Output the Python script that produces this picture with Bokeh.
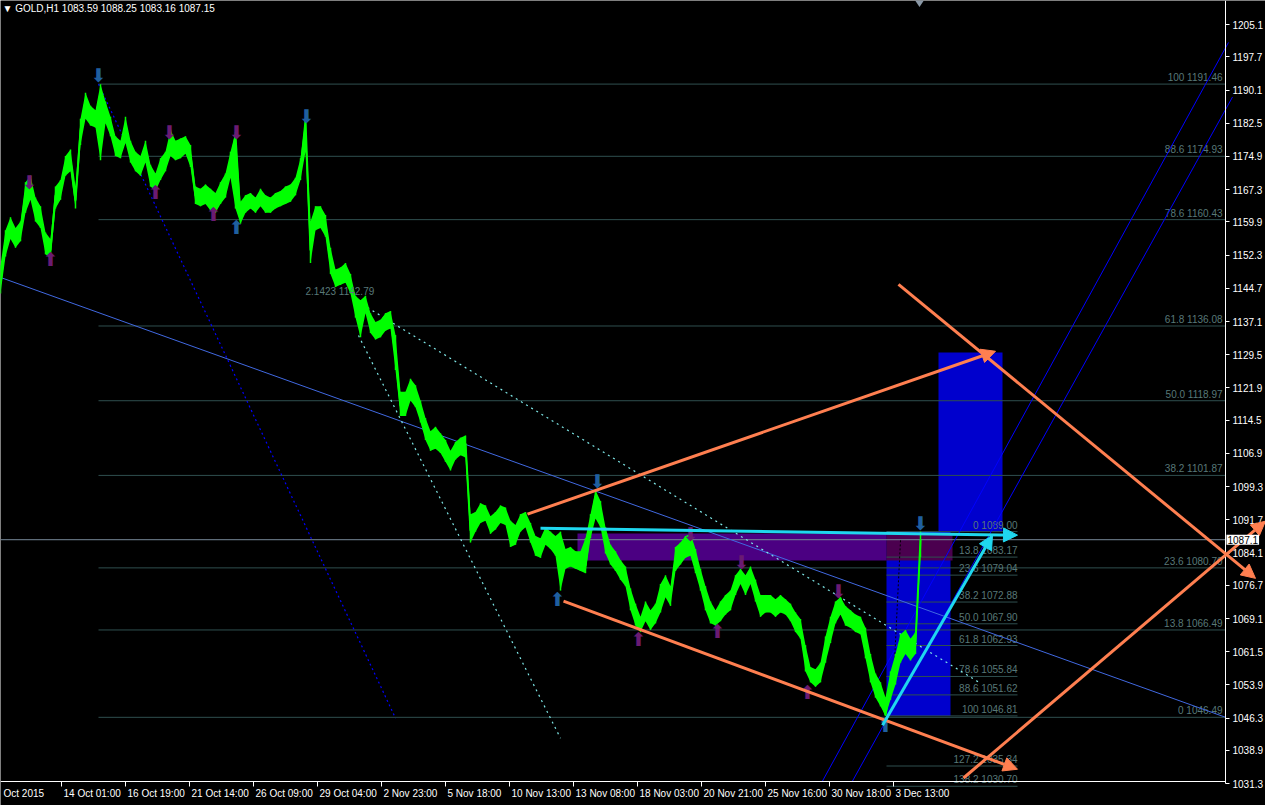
from bokeh.plotting import figure
from bokeh.models import Range1d, FixedTicker, PrintfTickFormatter, Label, Arrow, NormalHead
from bokeh.core.properties import value
from bokeh.embed import file_html
from bokeh.resources import INLINE

# ---------------- data ----------------
symbol = "GOLD,H1"
last_ohlc = [1083.59, 1088.25, 1083.16, 1087.15]

# hourly prices, one sample every 5 bars: close, high and low of each sample
bar_step = 5
closes = [
    1145.8, 1155.6, 1158.6, 1156.1, 1157.9, 1166.4, 1168.2, 1162.5, 1161.4, 1154.5,
    1153.4, 1165.9, 1167.5, 1172.8, 1174.0, 1164.8, 1180.8, 1187.7, 1184.3, 1183.6,
    1189.5, 1185.4, 1182.0, 1177.4, 1176.7, 1182.0, 1176.3, 1174.0, 1172.8, 1176.3,
    1170.5, 1169.0, 1172.1, 1174.0, 1178.5, 1176.3, 1176.9, 1177.4, 1175.1, 1165.9,
    1165.5, 1166.4, 1165.3, 1163.7, 1166.6, 1168.2, 1173.3, 1179.7, 1160.7, 1164.1,
    1164.8, 1163.7, 1165.5, 1164.1, 1163.7, 1164.8, 1165.3, 1165.9, 1166.6, 1168.2,
    1172.1, 1183.0, 1153.4, 1160.7, 1161.4, 1159.1, 1150.6, 1146.9, 1147.6, 1148.3,
    1146.0, 1140.8, 1139.6, 1141.4, 1136.9, 1135.0, 1135.5, 1136.9, 1137.8, 1129.3,
    1117.8, 1117.8, 1121.7, 1120.1, 1116.3, 1112.1, 1109.4, 1110.3, 1109.4, 1107.5,
    1104.8, 1107.5, 1108.7, 1109.2, 1089.2, 1091.5, 1093.4, 1093.4, 1090.4, 1091.5,
    1093.1, 1092.7, 1089.2, 1088.1, 1091.1, 1092.0, 1088.8, 1085.8, 1085.1, 1088.1,
    1086.9, 1085.8, 1078.9, 1082.8, 1083.3, 1082.4, 1082.4, 1081.2, 1090.4, 1097.2,
    1093.8, 1086.9, 1083.5, 1082.4, 1080.1, 1078.9, 1073.2, 1069.8, 1066.8, 1070.5,
    1068.6, 1070.5, 1074.4, 1076.6, 1074.4, 1082.4, 1084.0, 1085.8, 1086.9, 1082.4,
    1077.8, 1073.7, 1070.5, 1068.6, 1070.5, 1072.1, 1073.2, 1076.6, 1079.4, 1076.6,
    1079.6, 1075.5, 1072.1, 1072.7, 1072.5, 1071.4, 1072.7, 1071.8, 1070.5, 1068.1,
    1066.8, 1059.5, 1055.3, 1054.9, 1056.7, 1061.8, 1066.3, 1070.9, 1073.7, 1069.8,
    1069.1, 1068.1, 1067.5, 1064.0, 1057.2, 1053.7, 1051.4, 1047.0, 1053.7, 1057.2,
    1062.9, 1064.0, 1061.8, 1063.7, 1087.15,
]
highs = [
    1150.0, 1158.0, 1161.0, 1158.5, 1160.0, 1169.0, 1170.5, 1165.5, 1163.5, 1157.5,
    1156.0, 1168.0, 1169.5, 1175.0, 1176.5, 1168.0, 1183.5, 1189.5, 1186.5, 1185.5,
    1191.4, 1187.5, 1184.0, 1179.5, 1178.5, 1184.0, 1178.5, 1176.0, 1175.0, 1178.5,
    1173.0, 1171.0, 1174.5, 1176.0, 1181.0, 1178.5, 1179.0, 1179.5, 1177.5, 1168.0,
    1167.5, 1168.5, 1167.5, 1166.5, 1169.0, 1171.0, 1176.0, 1180.5, 1164.5, 1166.0,
    1166.5, 1165.5, 1167.5, 1166.0, 1165.5, 1166.5, 1167.0, 1168.0, 1168.5, 1170.0,
    1174.5, 1183.5, 1160.0, 1163.5, 1163.5, 1161.5, 1154.0, 1149.0, 1149.5, 1150.5,
    1148.0, 1143.0, 1142.0, 1143.0, 1139.0, 1137.0, 1137.5, 1139.0, 1139.5, 1134.0,
    1121.0, 1121.0, 1124.0, 1122.5, 1119.0, 1115.0, 1112.0, 1113.0, 1111.5, 1110.0,
    1107.5, 1109.5, 1110.5, 1111.0, 1093.0, 1093.5, 1095.5, 1095.0, 1092.5, 1093.5,
    1095.0, 1094.5, 1091.5, 1090.5, 1093.0, 1093.5, 1091.0, 1088.0, 1087.5, 1090.0,
    1089.0, 1088.0, 1089.0, 1085.0, 1085.5, 1084.5, 1084.5, 1087.5, 1093.0, 1098.5,
    1096.0, 1090.0, 1086.0, 1084.5, 1082.5, 1081.0, 1076.0, 1072.5, 1069.5, 1073.0,
    1071.0, 1072.5, 1077.0, 1079.0, 1076.5, 1085.5, 1086.5, 1088.0, 1088.5, 1085.0,
    1080.5, 1076.5, 1073.0, 1071.0, 1073.0, 1074.5, 1075.5, 1079.0, 1080.5, 1079.0,
    1081.0, 1078.0, 1074.5, 1074.5, 1074.5, 1073.5, 1074.5, 1073.5, 1072.5, 1070.5,
    1069.0, 1063.0, 1058.0, 1057.5, 1059.0, 1065.0, 1069.5, 1073.0, 1074.0, 1072.0,
    1071.0, 1070.0, 1069.5, 1067.0, 1061.0, 1056.5, 1054.5, 1051.0, 1057.0, 1061.0,
    1065.5, 1066.5, 1064.5, 1066.0, 1089.0,
]
lows = [
    1143.5, 1152.0, 1156.0, 1154.0, 1155.5, 1162.0, 1165.0, 1160.0, 1158.5, 1152.5,
    1151.5, 1163.0, 1165.0, 1170.5, 1171.5, 1163.0, 1177.5, 1183.5, 1182.0, 1181.5,
    1174.0, 1182.5, 1179.5, 1175.0, 1174.5, 1178.0, 1173.5, 1171.5, 1170.5, 1173.5,
    1168.0, 1167.0, 1169.5, 1171.5, 1175.0, 1174.0, 1174.5, 1175.5, 1172.5, 1164.0,
    1163.5, 1164.0, 1162.5, 1162.0, 1164.0, 1165.5, 1170.0, 1163.0, 1159.5, 1162.0,
    1163.0, 1162.0, 1163.5, 1162.0, 1162.0, 1163.0, 1163.5, 1164.0, 1164.5, 1166.0,
    1169.5, 1176.0, 1150.5, 1158.0, 1158.5, 1156.5, 1148.0, 1145.0, 1145.5, 1146.0,
    1143.5, 1138.0, 1133.5, 1139.0, 1134.5, 1133.0, 1133.5, 1135.0, 1135.5, 1126.0,
    1115.5, 1115.5, 1119.0, 1117.5, 1114.0, 1110.0, 1107.5, 1108.0, 1107.0, 1105.0,
    1103.0, 1105.5, 1106.5, 1106.0, 1086.5, 1089.0, 1091.0, 1091.5, 1088.5, 1089.5,
    1091.0, 1090.5, 1085.5, 1086.0, 1089.0, 1090.0, 1086.5, 1083.5, 1083.0, 1086.0,
    1085.0, 1083.5, 1075.5, 1080.5, 1081.0, 1080.5, 1080.0, 1079.5, 1087.5, 1092.0,
    1090.0, 1084.0, 1081.5, 1080.0, 1078.0, 1076.5, 1071.0, 1067.5, 1066.0, 1068.5,
    1066.5, 1068.0, 1070.5, 1074.0, 1072.0, 1080.0, 1081.5, 1083.0, 1083.5, 1079.5,
    1075.5, 1071.0, 1068.0, 1067.5, 1068.5, 1070.0, 1071.0, 1074.5, 1077.0, 1074.5,
    1077.0, 1073.0, 1069.5, 1070.5, 1070.5, 1069.5, 1070.5, 1070.0, 1068.5, 1066.0,
    1064.5, 1057.0, 1054.5, 1053.5, 1054.5, 1059.0, 1063.5, 1068.0, 1070.0, 1067.5,
    1067.0, 1066.0, 1065.5, 1060.0, 1054.5, 1051.0, 1049.0, 1046.8, 1050.5, 1054.0,
    1059.0, 1061.0, 1059.5, 1061.0, 1083.2,
]
bars = [i * bar_step for i in range(len(closes))]

# price scale
price_top = 1210.6
price_bottom = 1026.3
scale_low = 1031.3
y_ticks = [1205.1, 1197.7, 1190.1, 1182.5, 1174.9, 1167.3, 1159.9, 1152.3, 1144.7,
           1137.1, 1129.5, 1121.9, 1114.5, 1106.9, 1099.3, 1091.7, 1084.1, 1076.7,
           1069.1, 1061.5, 1053.9, 1046.3, 1038.9, 1031.3]

# time scale (bar index of each label)
last_visible_bar = 1225
window_bars = 1265
shift_bar = 919
time_tick_bars = [61, 125, 189, 253, 317, 381, 445, 509, 573, 637, 701, 765, 829, 893]
time_tick_labels = ["14 Oct 01:00", "16 Oct 19:00", "21 Oct 14:00", "26 Oct 09:00",
                    "29 Oct 04:00", "2 Nov 23:00", "5 Nov 18:00", "10 Nov 13:00",
                    "13 Nov 08:00", "18 Nov 03:00", "20 Nov 21:00", "25 Nov 16:00",
                    "30 Nov 18:00", "3 Dec 13:00"]
first_label_bar = 3
first_label = "Oct 2015"

# Fibonacci retracement over the whole decline
fib_main_start = 98
fib_main_levels = ["100", "88.6", "78.6", "61.8", "50.0", "38.2", "23.6", "13.8", "0"]
fib_main_prices = [1191.46, 1174.93, 1160.43, 1136.08, 1118.97, 1101.87, 1080.70, 1066.49, 1046.49]

# Fibonacci retracement of the last swing
fib_last_start = 886
fib_last_end = 1017
fib_last_levels = ["0", "13.8", "23.6", "38.2", "50.0", "61.8", "78.6", "88.6", "100", "127.2", "138.2"]
fib_last_prices = [1089.00, 1083.17, 1079.04, 1072.88, 1067.90, 1062.93, 1055.84, 1051.62,
                   1046.81, 1035.34, 1030.70]

# rectangles (left bar, right bar, top price, bottom price)
target_box = [938, 1002, 1130.0, 1089.0]
swing_box = [886, 950, 1089.0, 1046.8]
zone_box = [577, 952, 1088.6, 1082.4]

# trend lines (bar, price) pairs
trend_main = ([0, 1225], [1147.2, 1046.5])
swing_ray = ([98, 395], [1191.46, 1046.3])
fan_steep = ([358, 560], [1133.9, 1041.7])
fan_flat = ([367, 980], [1140.3, 1054.3])
channel_a = ([822, 1228], [1031.9, 1201.0])
channel_b = ([852, 1232], [1031.9, 1188.5])
swing_drop = ([900, 893], [1087.0, 1054.5])

# arrows (bar0, price0, bar1, price1)
orange_arrows = [
    (527, 1093.0, 995, 1130.3),
    (563, 1073.1, 1017, 1034.6),
    (898, 1145.6, 1255, 1078.3),
    (963, 1032.6, 1265, 1091.4),
]
cyan_arrows = [
    (540, 1089.8, 1017, 1088.2),
    (882, 1044.7, 992, 1088.2),
]

# fractal marks (bar, price of the extreme)
frac_high_bars = [29, 98, 169, 236, 306, 597, 690, 741, 838, 920]
frac_high_prices = [1167.1, 1191.46, 1178.5, 1178.5, 1182.0, 1098.5, 1086.5, 1080.1, 1073.3, 1089.0]
frac_high_major = [False, True, False, False, True, True, False, False, False, True]
frac_low_bars = [50, 155, 213, 236, 557, 638, 717, 807, 885]
frac_low_prices = [1153.4, 1168.9, 1163.7, 1160.7, 1075.6, 1066.4, 1068.2, 1054.3, 1046.81]
frac_low_major = [False, False, False, True, True, False, False, False, True]

label_note_bar = 305
label_note_price = 1142.79
label_note = "2.1423 1142.79"

# ---------------- styling ----------------
FONT = "Liberation Sans"
FIB_LINE = "#2f4f4f"
FIB_TEXT = "#587878"
PURPLE_MARK = "#6a1b72"
BLUE_MARK = "#1f5f9f"
ORANGE = "#ff7f50"
CYAN = "#1fd7ef"
DOTS = "#7fe8e8"
GREEN = "#00ff00"

p = figure(frame_width=1265, frame_height=805,
           x_range=Range1d(0, window_bars), y_range=Range1d(price_bottom, price_top),
           output_backend="svg", toolbar_location=None, y_axis_location="right",
           background_fill_color="black", border_fill_color="black",
           min_border=0, outline_line_color=None)
p.grid.visible = False

# price scale drawn at the right edge of the chart area
ya = p.yaxis[0]
ya.fixed_location = last_visible_bar
ya.bounds = (scale_low, price_top)
ya.ticker = FixedTicker(ticks=y_ticks)
ya.formatter = PrintfTickFormatter(format="%.1f")
ya.axis_line_color = "white"
ya.major_tick_line_color = "white"
ya.major_tick_out = 4
ya.major_tick_in = 0
ya.minor_tick_line_color = None
ya.major_label_text_color = "white"
ya.major_label_text_font = FONT
ya.major_label_text_font_size = "10px"
ya.major_label_standoff = 3

# time scale drawn at the bottom of the chart area
xa = p.xaxis[0]
xa.fixed_location = 1031.8
xa.bounds = (0, last_visible_bar)
xa.ticker = FixedTicker(ticks=time_tick_bars)
xa.major_label_overrides = {b: "" for b in time_tick_bars}
xa.axis_line_color = "white"
xa.major_tick_line_color = "white"
xa.major_tick_out = 5
xa.major_tick_in = 0
xa.minor_tick_line_color = None
xa.major_label_text_font_size = "10px"

# rectangles
p.quad(left=[target_box[0]], right=[target_box[1]], top=[target_box[2]], bottom=[target_box[3]],
       fill_color="#0000cd", line_color=None)
p.quad(left=[swing_box[0]], right=[swing_box[1]], top=[swing_box[2]], bottom=[swing_box[3]],
       fill_color="#0000cd", line_color=None)
p.quad(left=[zone_box[0]], right=[swing_box[0]], top=[zone_box[2]], bottom=[zone_box[3]],
       fill_color="#4b0082", line_color=None)
p.quad(left=[swing_box[0]], right=[zone_box[1]], top=[zone_box[2]], bottom=[zone_box[3]],
       fill_color="#4b004f", line_color=None)

# fibonacci levels
n_main = len(fib_main_prices)
p.segment(x0=[fib_main_start] * n_main, x1=[last_visible_bar] * n_main,
          y0=fib_main_prices, y1=fib_main_prices, line_color=FIB_LINE, line_width=1)
p.text(x=[last_visible_bar - 3] * n_main, y=fib_main_prices,
       text=[f"{l} {v:.2f}" for l, v in zip(fib_main_levels, fib_main_prices)],
       text_align="right", text_baseline="bottom", y_offset=-1,
       text_font=value(FONT), text_font_size="10px", text_color=FIB_TEXT)
n_last = len(fib_last_prices)
p.segment(x0=[fib_last_start] * n_last, x1=[fib_last_end] * n_last,
          y0=fib_last_prices, y1=fib_last_prices, line_color=FIB_LINE, line_width=1)
p.text(x=[fib_last_end] * n_last, y=fib_last_prices,
       text=[f"{l} {v:.2f}" for l, v in zip(fib_last_levels, fib_last_prices)],
       text_align="right", text_baseline="bottom", y_offset=-1,
       text_font=value(FONT), text_font_size="10px", text_color=FIB_TEXT)

# current price line
p.line(x=[0, last_visible_bar], y=[last_ohlc[3]] * 2, line_color="#778899", line_width=1)

# trend lines
p.line(x=trend_main[0], y=trend_main[1], line_color="#4169e1", line_width=1)
p.line(x=swing_ray[0], y=swing_ray[1], line_color="#0000ff", line_width=1.2, line_dash="2 3")
p.line(x=fan_steep[0], y=fan_steep[1], line_color=DOTS, line_width=1.2, line_dash="2 4")
p.line(x=fan_flat[0], y=fan_flat[1], line_color=DOTS, line_width=1.2, line_dash="2 4")
p.line(x=channel_a[0], y=channel_a[1], line_color="#0000ff", line_width=1)
p.line(x=channel_b[0], y=channel_b[1], line_color="#0000ff", line_width=1)
p.line(x=swing_drop[0], y=swing_drop[1], line_color="black", line_width=1, line_dash="2 2")

# price: hourly range band, range spikes and the close path
p.varea(x=bars, y1=lows, y2=highs, fill_color=GREEN, fill_alpha=1.0)
p.segment(x0=bars, x1=bars, y0=lows, y1=highs, line_color=GREEN, line_width=1.5)
p.line(x=bars, y=closes, line_color=GREEN, line_width=2)

# fractal marks
p.text(x=frac_high_bars, y=frac_high_prices, text=["\u2b07"] * len(frac_high_bars),
       text_color=[BLUE_MARK if m else PURPLE_MARK for m in frac_high_major],
       text_align="center", text_baseline="bottom", y_offset=2,
       text_font=value("DejaVu Sans"), text_font_size="19px")
p.text(x=frac_low_bars, y=frac_low_prices, text=["\u2b06"] * len(frac_low_bars),
       text_color=[BLUE_MARK if m else PURPLE_MARK for m in frac_low_major],
       text_align="center", text_baseline="top", y_offset=-2,
       text_font=value("DejaVu Sans"), text_font_size="19px")

p.text(x=[label_note_bar], y=[label_note_price], text=[label_note], text_align="left",
       text_baseline="bottom", text_font=value(FONT), text_font_size="10px", text_color=FIB_TEXT)

# arrows
for x0, y0, x1, y1 in orange_arrows:
    p.add_layout(Arrow(end=NormalHead(size=14, fill_color=ORANGE, line_color=ORANGE),
                       x_start=x0, y_start=y0, x_end=x1, y_end=y1,
                       line_color=ORANGE, line_width=3))
for x0, y0, x1, y1 in cyan_arrows:
    p.add_layout(Arrow(end=NormalHead(size=14, fill_color=CYAN, line_color=CYAN),
                       x_start=x0, y_start=y0, x_end=x1, y_end=y1,
                       line_color=CYAN, line_width=3))

# chart shift marker at the top edge
p.scatter(x=[shift_bar], y=[price_top], marker="diamond", size=13,
          fill_color="#8a98a6", line_color=None)

# time labels, left-aligned just right of each tick
p.text(x=[first_label_bar] + [b + 2 for b in time_tick_bars], y=[1031.8] * (len(time_tick_bars) + 1),
       text=[first_label] + time_tick_labels, text_align="left", text_baseline="top", y_offset=7,
       text_font=value(FONT), text_font_size="10px", text_color="white")

# header
header = "\u25bc " + symbol + "  " + " ".join(f"{v:.2f}" for v in last_ohlc)
p.add_layout(Label(x=2, y=803, x_units="screen", y_units="screen", text=header,
                   text_color="white", text_font=FONT, text_font_size="10px",
                   text_baseline="top", text_align="left"))

# current price tag on the scale
p.add_layout(Label(x=1226, y=last_ohlc[3], x_units="screen", y_units="data",
                   text=str(last_ohlc[3])[:6], text_color="black", text_font=FONT,
                   text_font_size="10px", text_baseline="middle", text_align="left",
                   background_fill_color="white", padding=1))

html = file_html(p, INLINE)
html = html.replace("<head>", "<head><style>html,body{margin:0;overflow:hidden;}</style>", 1)
open("out.html", "w").write(html)
